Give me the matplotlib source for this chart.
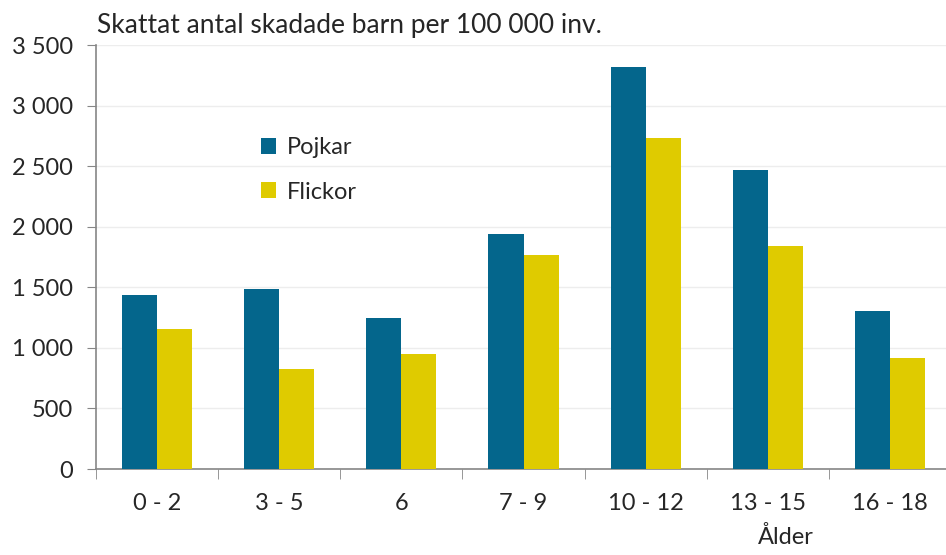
import matplotlib.pyplot as plt
import numpy as np
from matplotlib.ticker import FuncFormatter, FixedLocator

# Skattat antal skadade barn per 100 000 invånare, per åldersgrupp
age_groups = ['0 - 2', '3 - 5', '6', '7 - 9', '10 - 12', '13 - 15', '16 - 18']
pojkar = [1436, 1489, 1249, 1937, 3316, 2468, 1302]
flickor = [1158, 828, 947, 1767, 2732, 1843, 919]

BLUE = '#04668c'
YELLOW = '#dfcb00'
AXIS_GRAY = '#868686'
TEXT = '#262626'


def main():
    plt.rcParams['font.family'] = ['Lato', 'DejaVu Sans']
    fig = plt.figure(figsize=(9.46, 5.55), dpi=100)
    W, H = 946, 555
    ax = fig.add_axes([96 / W, 1 - 469 / H, (951 - 96) / W, (469 - 45) / H])

    x = np.arange(len(age_groups))
    width = 0.287
    ax.bar(x - width / 2, pojkar, width, color=BLUE, label='Pojkar', zorder=3)
    ax.bar(x + width / 2, flickor, width, color=YELLOW, label='Flickor', zorder=3)

    ax.set_xlim(-0.5, len(age_groups) - 0.5)
    ax.set_ylim(0, 3500)
    ax.set_yticks(np.arange(0, 3501, 500))
    ax.yaxis.set_major_formatter(FuncFormatter(lambda v, _: f'{int(v):,}'.replace(',', ' ')))
    ax.grid(axis='y', color='#ededed', linewidth=1, zorder=0)

    ax.set_xticks(x)
    ax.set_xticklabels(age_groups)
    ax.xaxis.set_minor_locator(FixedLocator(np.arange(-0.5, len(age_groups), 1)))
    ax.tick_params(axis='x', which='major', length=0, pad=17, labelsize=17, labelcolor=TEXT)
    ax.tick_params(axis='x', which='minor', length=7, color=AXIS_GRAY, direction='out')
    ax.tick_params(axis='y', length=6.5, color=AXIS_GRAY, labelsize=17, labelcolor=TEXT, pad=10)

    for side in ['top', 'right']:
        ax.spines[side].set_visible(False)
    for side in ['left', 'bottom']:
        ax.spines[side].set_color(AXIS_GRAY)
        ax.spines[side].set_linewidth(1.2)

    ax.legend(loc='upper left', bbox_to_anchor=(261 / W, 1 - 137 / H),
              bbox_transform=fig.transFigure, frameon=False, fontsize=17,
              borderpad=0, borderaxespad=0,
              handlelength=0.65, handleheight=0.65, handletextpad=0.45,
              labelspacing=1.0, labelcolor=TEXT)

    fig.text(97 / W, 1 - 33 / H, 'Skattat antal skadade barn per 100 000 inv.',
             fontsize=19, color=TEXT, va='baseline', ha='left')
    fig.text(786 / W, 1 - 544 / H, 'Ålder', fontsize=17, color=TEXT,
             va='baseline', ha='center')

    fig.savefig('out.png', dpi=100)


if __name__ == '__main__':
    main()
